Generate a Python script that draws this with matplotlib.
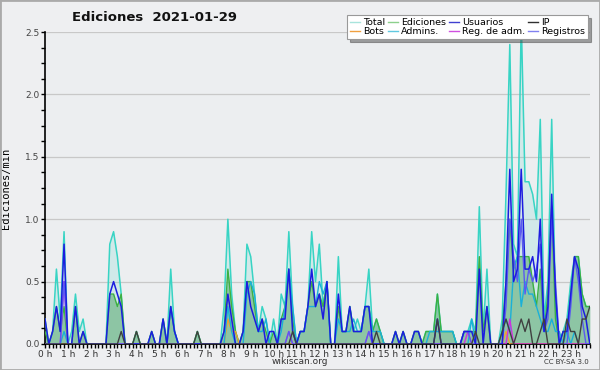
import numpy as np
import matplotlib
matplotlib.use('Agg')
from matplotlib import pyplot as plt
from matplotlib.lines import Line2D
from matplotlib.patches import Rectangle

# one value every 10 minutes (144 slots), edits per minute
hours = ['%d h' % h for h in range(24)]

total = [
    0.2, 0, 0.1, 0.6, 0.2, 0.9,   0, 0.1, 0.4, 0.1, 0.2, 0,
    0, 0, 0, 0, 0, 0.8,           0.9, 0.7, 0.4, 0, 0, 0,
    0.1, 0, 0, 0, 0.1, 0,         0, 0.2, 0, 0.6, 0.1, 0,
    0, 0, 0, 0, 0.1, 0,           0, 0, 0, 0, 0, 0.3,
    1.0, 0.4, 0.1, 0, 0.1, 0.8,   0.7, 0.4, 0.1, 0.3, 0.2, 0,
    0.2, 0, 0.4, 0.3, 0.9, 0.3,   0, 0.1, 0.1, 0.3, 0.9, 0.5,
    0.8, 0.3, 0.5, 0, 0, 0.7,     0.1, 0.1, 0.3, 0.1, 0.2, 0.1,
    0.3, 0.6, 0.1, 0.2, 0.1, 0,   0, 0, 0.1, 0, 0.1, 0,
    0, 0.1, 0.1, 0, 0.1, 0.1,     0.1, 0.4, 0.1, 0.1, 0.1, 0.1,
    0, 0, 0.1, 0.1, 0.2, 0.1,     1.1, 0.1, 0.6, 0, 0, 0,
    0.2, 1.2, 2.4, 0.8, 0.7, 2.6, 1.3, 1.3, 1.2, 1.0, 1.8, 0.2,
    0.5, 1.8, 0.3, 0, 0.1, 0.2,   0.5, 0.7, 0.7, 0.4, 0.3, 0.3,
]

ediciones = [
    0.1, 0, 0.1, 0.3, 0.1, 0.3,   0, 0, 0.3, 0, 0.1, 0,
    0, 0, 0, 0, 0, 0.4,           0.4, 0.3, 0.4, 0, 0, 0,
    0.1, 0, 0, 0, 0.1, 0,         0, 0.2, 0, 0.3, 0.1, 0,
    0, 0, 0, 0, 0.1, 0,           0, 0, 0, 0, 0, 0.1,
    0.6, 0.3, 0.1, 0, 0.1, 0.5,   0.5, 0.3, 0.1, 0.2, 0.1, 0,
    0.1, 0, 0.2, 0.3, 0.6, 0.2,   0, 0.1, 0.1, 0.3, 0.5, 0.3,
    0.4, 0.3, 0.5, 0, 0, 0.3,     0.1, 0.1, 0.3, 0.1, 0.1, 0.1,
    0.3, 0.3, 0.1, 0.2, 0.1, 0,   0, 0, 0.1, 0, 0.1, 0,
    0, 0.1, 0.1, 0, 0.1, 0.1,     0.1, 0.4, 0.1, 0.1, 0.1, 0.1,
    0, 0, 0.1, 0.1, 0.1, 0.1,     0.7, 0.1, 0.3, 0, 0, 0,
    0.1, 0.5, 1.0, 0.6, 0.7, 0.7, 0.7, 0.7, 0.5, 0.3, 0.6, 0.1,
    0.4, 1.1, 0.2, 0, 0.1, 0.1,   0.4, 0.7, 0.7, 0.4, 0.3, 0.3,
]

usuarios = [
    0.2, 0, 0.1, 0.3, 0.1, 0.8,   0, 0, 0.3, 0, 0.1, 0,
    0, 0, 0, 0, 0, 0.4,           0.5, 0.4, 0.3, 0, 0, 0,
    0, 0, 0, 0, 0.1, 0,           0, 0.2, 0, 0.3, 0.1, 0,
    0, 0, 0, 0, 0, 0,             0, 0, 0, 0, 0, 0.1,
    0.4, 0.2, 0, 0, 0.1, 0.5,     0.3, 0.2, 0.1, 0.2, 0, 0.1,
    0.1, 0, 0.2, 0.2, 0.6, 0.1,   0, 0.1, 0.1, 0.3, 0.6, 0.3,
    0.4, 0.2, 0.5, 0, 0, 0.4,     0.1, 0.1, 0.3, 0.1, 0.1, 0.1,
    0.3, 0.3, 0, 0, 0, 0,         0, 0, 0.1, 0, 0.1, 0,
    0, 0.1, 0.1, 0, 0, 0,         0, 0.2, 0, 0, 0, 0,
    0, 0, 0.1, 0.1, 0.1, 0,       0.6, 0, 0.3, 0, 0, 0,
    0, 0.5, 1.4, 0.5, 0.6, 1.4,   0.6, 0.6, 0.7, 0.5, 1.0, 0.1,
    0.3, 1.2, 0.4, 0, 0.1, 0.1,   0.4, 0.7, 0.6, 0.3, 0.2, 0,
]

# sparse series: {slot: value}
ip = {20: 0.1, 24: 0.1, 40: 0.1, 65: 0.1, 87: 0.1, 103: 0.2, 113: 0.1,
      120: 0.1, 121: 0.2, 122: 0.1, 124: 0.1, 125: 0.2, 126: 0.1, 127: 0.2,
      130: 0.1, 131: 0.2, 137: 0.2, 138: 0.1, 139: 0.1, 141: 0.2, 142: 0.2,
      143: 0.3}
bots = {48: 0.2, 49: 0.1, 50: 0.1, 121: 0.1}
admins = {5: 0.1, 33: 0.3, 34: 0.1, 48: 0.3, 49: 0.1, 53: 0.4, 54: 0.5,
          55: 0.4, 56: 0.1, 57: 0.1, 58: 0.2, 62: 0.1, 63: 0.3, 64: 0.6,
          65: 0.3, 67: 0.1, 68: 0.1, 69: 0.3, 70: 0.3, 71: 0.3, 72: 0.5,
          73: 0.4, 74: 0.5, 77: 0.2, 78: 0.1, 79: 0.1, 80: 0.1, 81: 0.2,
          82: 0.1, 83: 0.1, 84: 0.3, 85: 0.3, 86: 0.1, 87: 0.1, 88: 0.1,
          101: 0.1, 102: 0.1, 103: 0.1, 104: 0.1, 105: 0.1, 106: 0.1,
          107: 0.1, 112: 0.2, 120: 0.1, 121: 0.2, 122: 0.1, 123: 0.6,
          124: 0.7, 125: 0.3, 126: 0.5, 127: 0.4, 128: 0.4, 129: 0.3,
          130: 0.2, 131: 0.1, 132: 0.1, 133: 0.2, 134: 0.1, 135: 0.1,
          137: 0.1, 139: 0.1}
reg_adm = {5: 0.5, 64: 0.1, 85: 0.1, 111: 0.1, 122: 0.2}
registros = {5: 0.5, 64: 0.1, 85: 0.1, 110: 0.1, 111: 0.1, 121: 0.3,
             122: 1.0, 123: 0.7, 124: 0.5, 125: 1.0, 126: 0.4, 127: 0.6,
             128: 0.5, 129: 0.6, 130: 0.8, 131: 0.1, 132: 0.2, 133: 1.0,
             134: 0.5, 138: 0.3, 139: 0.7, 140: 0.5, 141: 0.2}


def expand(d, n=144):
    a = np.zeros(n)
    for k, v in d.items():
        a[k] = v
    return a


x = np.arange(144)

fig = plt.figure(figsize=(6, 3.7), dpi=100, facecolor='#eeeff1')
ax = fig.add_axes([0.075, 0.0703, 0.908, 0.8432])
ax.set_facecolor('#eceef0')

for v in [0.5, 1.0, 1.5, 2.0, 2.5]:
    ax.axhline(v, color='#c8c8c8', lw=0.9, zorder=0)

ax.fill_between(x, total, color='#3cd2c2', alpha=0.15, lw=0, zorder=1)
ax.fill_between(x, ediciones, color='#3a9a50', alpha=0.45, lw=0, zorder=2)

ax.plot(x, total, color='#38d4c4', lw=1.1, zorder=3)
ax.plot(x, ediciones, color='#3cb043', lw=1.0, zorder=4)
ax.plot(x, expand(bots), color='#f0a030', lw=1.0, zorder=5)
ax.plot(x, expand(admins), color='#1ab0d8', lw=1.0, zorder=6)
ax.plot(x, expand(reg_adm), color='#d030e0', lw=1.0, zorder=7)
ax.plot(x, expand(registros), color='#5a5af0', lw=1.0, zorder=8)
ax.plot(x, usuarios, color='#1c1ce0', lw=1.1, zorder=9)
ax.plot(x, expand(ip), color='#404040', lw=1.0, zorder=10)

ax.set_xlim(0, 143)
ax.set_ylim(0, 2.5)
for s in ['top', 'right']:
    ax.spines[s].set_visible(False)
ax.spines['left'].set_linewidth(1.2)
ax.spines['bottom'].set_linewidth(1.2)

ax.set_xticks(np.arange(0, 144, 6))
ax.set_xticklabels(hours, fontsize=6.5, color='#333333')
ax.set_xticks(np.arange(0, 144, 1), minor=True)
ax.set_yticks([0, 0.5, 1.0, 1.5, 2.0, 2.5])
ax.set_yticklabels(['0.0', '0.5', '1.0', '1.5', '2.0', '2.5'], fontsize=6.5, color='#444444')
ax.set_yticks(np.arange(0, 2.51, 0.125), minor=True)
ax.tick_params(axis='both', which='both', direction='out', length=3, width=1, color='black', pad=1)

ax.set_ylabel('Ediciones/min', family='DejaVu Sans Mono', fontsize=7.5)
ax.yaxis.set_label_coords(-0.063, 0.5)

fig.text(0.258, 0.954, 'Ediciones  2021-01-29', ha='center', va='center',
         fontsize=9.5, fontweight='bold', color='#111111')
fig.text(0.5, 0.022, 'wikiscan.org', ha='center', va='center', fontsize=6.5, color='#333333')
fig.text(0.982, 0.022, 'CC BY-SA 3.0', ha='right', va='center', fontsize=5, color='#333333')

handles = [
    Line2D([], [], color='#a8e4dc', lw=1), Line2D([], [], color='#f0a040', lw=1),
    Line2D([], [], color='#8cd08c', lw=1), Line2D([], [], color='#60c8e0', lw=1),
    Line2D([], [], color='#4040d0', lw=1), Line2D([], [], color='#d050e0', lw=1),
    Line2D([], [], color='#303030', lw=1), Line2D([], [], color='#8080f0', lw=1),
]
labels = ['Total', 'Bots', 'Ediciones', 'Admins.', 'Usuarios', 'Reg. de adm.', 'IP', 'Registros']
leg = fig.legend(handles, labels, loc='upper right', bbox_to_anchor=(0.988, 0.972),
                 ncol=4, fontsize=6.8, handlelength=1.1, handletextpad=0.3,
                 columnspacing=0.3, labelspacing=0.05, borderpad=0.3,
                 frameon=True, fancybox=False, shadow=True)
leg.get_frame().set_edgecolor('#999999')
leg.get_frame().set_linewidth(0.8)

fig.patches.append(Rectangle((0, 0), 1, 1, transform=fig.transFigure, fill=False,
                             edgecolor='#aaaaaa', lw=2))

plt.savefig('out.png', dpi=100, facecolor=fig.get_facecolor())
